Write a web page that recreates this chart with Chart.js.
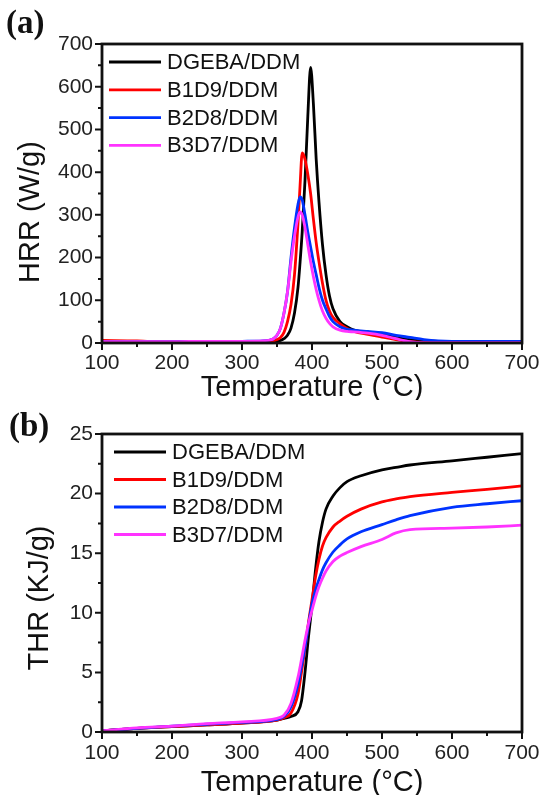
<!DOCTYPE html>
<html>
<head>
<meta charset="utf-8">
<script src="https://cdn.jsdelivr.net/npm/chart.js@4"></script>
<style>
  body { margin: 0; background: #fff; overflow: hidden; }
  canvas { display: block; }
  .panel { position: absolute; left: 0; }
  .tag { position: absolute; font: bold 33px "Liberation Serif", serif; color: #111; line-height: 1; }
</style>
</head>
<body>
<div class="panel" style="top:0"><canvas id="hrrchart" width="542" height="400"></canvas></div>
<div class="panel" style="top:400px"><canvas id="thrchart" width="542" height="395"></canvas></div>
<div class="tag" style="left:6px;top:6px">(a)</div>
<div class="tag" style="left:9px;top:409px">(b)</div>
<script>
const seriesNames = ['DGEBA/DDM', 'B1D9/DDM', 'B2D8/DDM', 'B3D7/DDM'];
const seriesColors = ['#000000', '#ff0000', '#0033ff', '#ff33ff'];

// (a) heat release rate, W/g
const hrrTemps = [100, 150, 200, 250, 300, 330, 340, 345, 350, 355, 360, 365, 370, 375, 380, 383, 386, 390, 394, 398, 402, 406, 410, 415, 420, 425, 430, 440, 450, 460, 480, 500, 520, 540, 560, 580, 600, 650, 700];
const hrrDGEBA = [4, 3, 3, 3, 3, 3, 3, 3, 4, 6, 10, 18, 35, 70, 130, 190, 260, 380, 530, 645, 560, 430, 330, 230, 160, 110, 80, 50, 38, 30, 24, 20, 13, 8, 5, 4, 3, 3, 3];
const hrrB1D9 = [6, 5, 2, 3, 3, 3, 4, 5, 8, 13, 25, 50, 90, 160, 280, 370, 445, 430, 395, 350, 290, 235, 190, 140, 100, 75, 60, 45, 34, 27, 20, 14, 8, 3, 2, 2, 2, 2, 2];
const hrrB2D8 = [3, 3, 3, 3, 4, 5, 7, 10, 18, 35, 70, 120, 200, 270, 325, 342, 335, 300, 260, 225, 190, 160, 130, 100, 80, 62, 50, 38, 32, 30, 27, 24, 18, 13, 8, 5, 4, 4, 4];
const hrrB3D7 = [3, 3, 3, 4, 4, 5, 7, 10, 18, 35, 70, 120, 190, 250, 295, 307, 300, 270, 230, 190, 155, 125, 100, 75, 58, 46, 38, 30, 27, 26, 23, 18, 10, 3, 1, 1, 1, 1, 1];

// (b) total heat release, KJ/g
const thrTemps = [100, 150, 200, 250, 300, 350, 360, 370, 380, 385, 390, 395, 400, 405, 410, 415, 420, 430, 440, 450, 470, 500, 520, 540, 600, 650, 700];
const thrDGEBA = [0.1, 0.3, 0.45, 0.6, 0.75, 1.0, 1.15, 1.3, 1.7, 2.6, 5.0, 8.0, 10.6, 13.6, 16.0, 17.6, 18.7, 19.8, 20.5, 21.0, 21.5, 22.0, 22.2, 22.4, 22.75, 23.05, 23.35];
const thrB1D9 = [0.1, 0.3, 0.45, 0.6, 0.75, 1.0, 1.2, 1.6, 3.2, 5.0, 7.0, 9.2, 11.1, 13.0, 14.5, 15.6, 16.3, 17.2, 17.7, 18.1, 18.7, 19.3, 19.55, 19.75, 20.1, 20.35, 20.65];
const thrB2D8 = [0.1, 0.3, 0.5, 0.65, 0.8, 1.05, 1.3, 2.1, 4.0, 5.5, 7.1, 9.0, 10.75, 11.9, 12.8, 13.6, 14.2, 15.1, 15.7, 16.2, 16.8, 17.4, 17.8, 18.15, 18.85, 19.15, 19.4];
const thrB3D7 = [0.1, 0.35, 0.5, 0.7, 0.85, 1.15, 1.4, 2.4, 4.6, 6.1, 7.7, 9.1, 10.2, 11.3, 12.2, 12.9, 13.5, 14.3, 14.75, 15.05, 15.55, 16.15, 16.7, 16.98, 17.1, 17.2, 17.35];

const axisFont = { family: 'Liberation Sans', size: 21 };
const titleFont = { family: 'Liberation Sans', size: 29, lineHeight: 0.8 };

function makeDatasets(temps, lists) {
  return lists.map((vals, i) => ({
    label: seriesNames[i],
    data: temps.map((t, j) => ({ x: t, y: vals[j] })),
    borderColor: seriesColors[i],
    borderWidth: 2.8,
    pointRadius: 0,
    cubicInterpolationMode: 'monotone',
    order: 3 - i
  }));
}

// frame, outward ticks, y title and inside legend
const framePlugin = {
  id: 'frame',
  afterDatasetsDraw(chart, args, o) {
    const { ctx, chartArea: a, scales: { x, y } } = chart;
    ctx.save();
    ctx.strokeStyle = '#111';
    ctx.lineWidth = 2;
    ctx.beginPath();
    for (let v = x.min; v <= x.max + 1e-6; v += o.xMinor) {
      const px = x.getPixelForValue(v);
      const len = Math.abs((v - x.min) % o.xMajor) < 1e-6 ? 7 : 4;
      ctx.moveTo(px, a.bottom);
      ctx.lineTo(px, a.bottom + len);
    }
    for (let v = y.min; v <= y.max + 1e-6; v += o.yMinor) {
      const py = y.getPixelForValue(v);
      const len = Math.abs(v % o.yMajor) < 1e-6 ? 7 : 4;
      ctx.moveTo(a.left, py);
      ctx.lineTo(a.left - len, py);
    }
    ctx.stroke();
    ctx.lineWidth = 2.8;
    ctx.strokeRect(a.left, a.top, a.right - a.left, a.bottom - a.top);

    // y title
    ctx.fillStyle = '#111';
    ctx.font = '29px "Liberation Sans"';
    ctx.textAlign = 'center';
    ctx.textBaseline = 'middle';
    ctx.translate(o.yTitleX, o.yTitleY);
    ctx.rotate(-Math.PI / 2);
    ctx.fillText(o.yTitle, 0, 0);
    ctx.setTransform(1, 0, 0, 1, 0, 0);

    // legend
    ctx.font = '22px "Liberation Sans"';
    ctx.textAlign = 'left';
    ctx.lineWidth = 2.8;
    chart.data.datasets.forEach((ds, i) => {
      const ly = a.top + o.legTop + i * o.legGap;
      const lx = a.left + o.legLeft;
      ctx.strokeStyle = ds.borderColor;
      ctx.beginPath();
      ctx.moveTo(lx, ly);
      ctx.lineTo(lx + 52, ly);
      ctx.stroke();
      ctx.fillStyle = '#111';
      ctx.fillText(ds.label, lx + 58, ly + 1);
    });
    ctx.restore();
  }
};

function makeConfig(datasets, yMax, yStep, xHeight, padTop, tickPad, frameOpts) {
  return {
    type: 'line',
    data: { datasets: datasets },
    options: {
      responsive: false,
      animation: false,
      layout: { padding: { left: 0, right: 20, top: padTop, bottom: 0 } },
      plugins: { legend: { display: false }, tooltip: { enabled: false }, frame: frameOpts },
      scales: {
        x: {
          type: 'linear', min: 100, max: 700,
          grid: { display: false, drawTicks: false },
          border: { display: false },
          ticks: { stepSize: 100, font: axisFont, color: '#222', padding: tickPad, maxRotation: 0 },
          title: { display: true, text: 'Temperature (°C)', font: titleFont, color: '#111', padding: { top: 0, bottom: 0 } },
          afterFit(scale) { scale.height = xHeight; scale.paddingLeft = 0; scale.paddingRight = 0; }
        },
        y: {
          min: 0, max: yMax,
          grid: { display: false, drawTicks: false },
          border: { display: false },
          ticks: { stepSize: yStep, font: axisFont, color: '#222', padding: 9 },
          afterFit(scale) { scale.width = 102; scale.paddingTop = 0; scale.paddingBottom = 0; }
        }
      }
    },
    plugins: [framePlugin]
  };
}

const hrrchart = new Chart(
  document.getElementById('hrrchart'),
  makeConfig(makeDatasets(hrrTemps, [hrrDGEBA, hrrB1D9, hrrB2D8, hrrB3D7]), 700, 100, 57, 44, 8,
    { xMajor: 100, xMinor: 50, yMajor: 100, yMinor: 50, yTitle: 'HRR (W/g)', yTitleX: 31, yTitleY: 212, legLeft: 7, legTop: 18, legGap: 27.8 })
);

const thrchart = new Chart(
  document.getElementById('thrchart'),
  makeConfig(makeDatasets(thrTemps, [thrDGEBA, thrB1D9, thrB2D8, thrB3D7]), 25, 5, 63, 34, 9,
    { xMajor: 100, xMinor: 50, yMajor: 5, yMinor: 2.5, yTitle: 'THR (KJ/g)', yTitleX: 40, yTitleY: 198, legLeft: 12, legTop: 18, legGap: 27.5 })
);
</script>
</body>
</html>
